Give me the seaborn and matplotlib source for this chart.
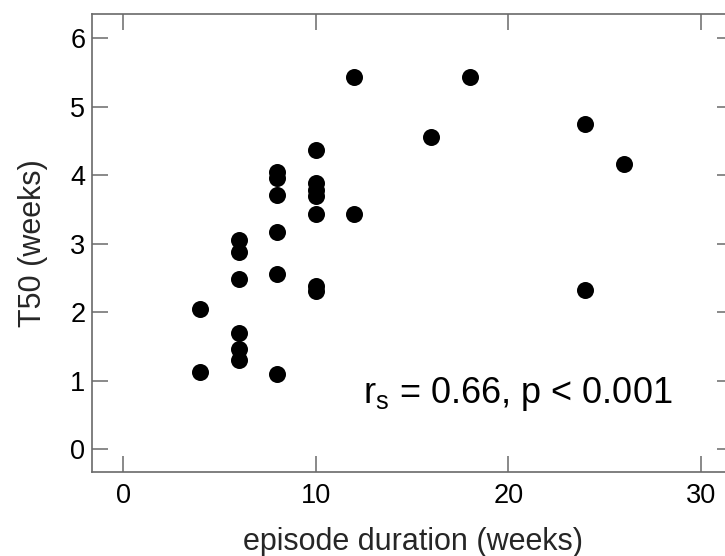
import matplotlib
matplotlib.use("Agg")
import matplotlib.pyplot as plt
import seaborn as sns
import pandas as pd

# data
duration = [4, 4,
            6, 6, 6, 6, 6, 6,
            8, 8, 8, 8, 8, 8,
            10, 10, 10, 10, 10, 10, 10,
            12, 12, 16, 18, 24, 24, 26]
t50 = [2.05, 1.13,
       3.05, 2.88, 2.49, 1.70, 1.46, 1.31,
       4.04, 3.96, 3.71, 3.17, 2.56, 1.10,
       4.37, 3.88, 3.79, 3.69, 3.44, 2.38, 2.31,
       5.43, 3.44, 4.55, 5.43, 4.74, 2.33, 4.16]
x_ticks = [0, 10, 20, 30]
y_ticks = [0, 1, 2, 3, 4, 5, 6]
annotation = r"$\mathregular{r_s}$ = 0.66, p < 0.001"

sns.set_style("ticks")
plt.rcParams["font.family"] = ["Liberation Sans", "DejaVu Sans"]
plt.rcParams["mathtext.fontset"] = "custom"
plt.rcParams["mathtext.rm"] = "Liberation Sans"
plt.rcParams["mathtext.it"] = "Liberation Sans"

df = pd.DataFrame({"duration": duration, "t50": t50})

fig = plt.figure(figsize=(7.25, 5.56), dpi=100)
ax = fig.add_axes([0.1273, 0.1505, 0.8837, 0.8243])

sns.scatterplot(data=df, x="duration", y="t50", ax=ax, color="black",
                s=150, edgecolor="black", linewidth=0, legend=False)

ax.set_xlim(-1.6, 31.67)
ax.set_ylim(-0.335, 6.35)
ax.set_xticks(x_ticks)
ax.set_yticks(y_ticks)

gray = "#6a6a6a"
for sp in ax.spines.values():
    sp.set_visible(True)
    sp.set_color(gray)
    sp.set_linewidth(1.2)
ax.tick_params(axis="both", which="both", direction="in", length=11.5,
               width=1.1, color=gray, labelcolor="black", labelsize=19.5,
               top=True, right=True)
ax.tick_params(axis="x", pad=8)
ax.tick_params(axis="y", pad=5)

ax.set_xlabel("episode duration (weeks)", fontsize=22, labelpad=13)
ax.set_ylabel("T50 (weeks)", fontsize=22, labelpad=16)

ax.text(12.46, 0.675, annotation, fontsize=26, ha="left", va="baseline",
        color="black")

fig.savefig("out.png", dpi=100)
